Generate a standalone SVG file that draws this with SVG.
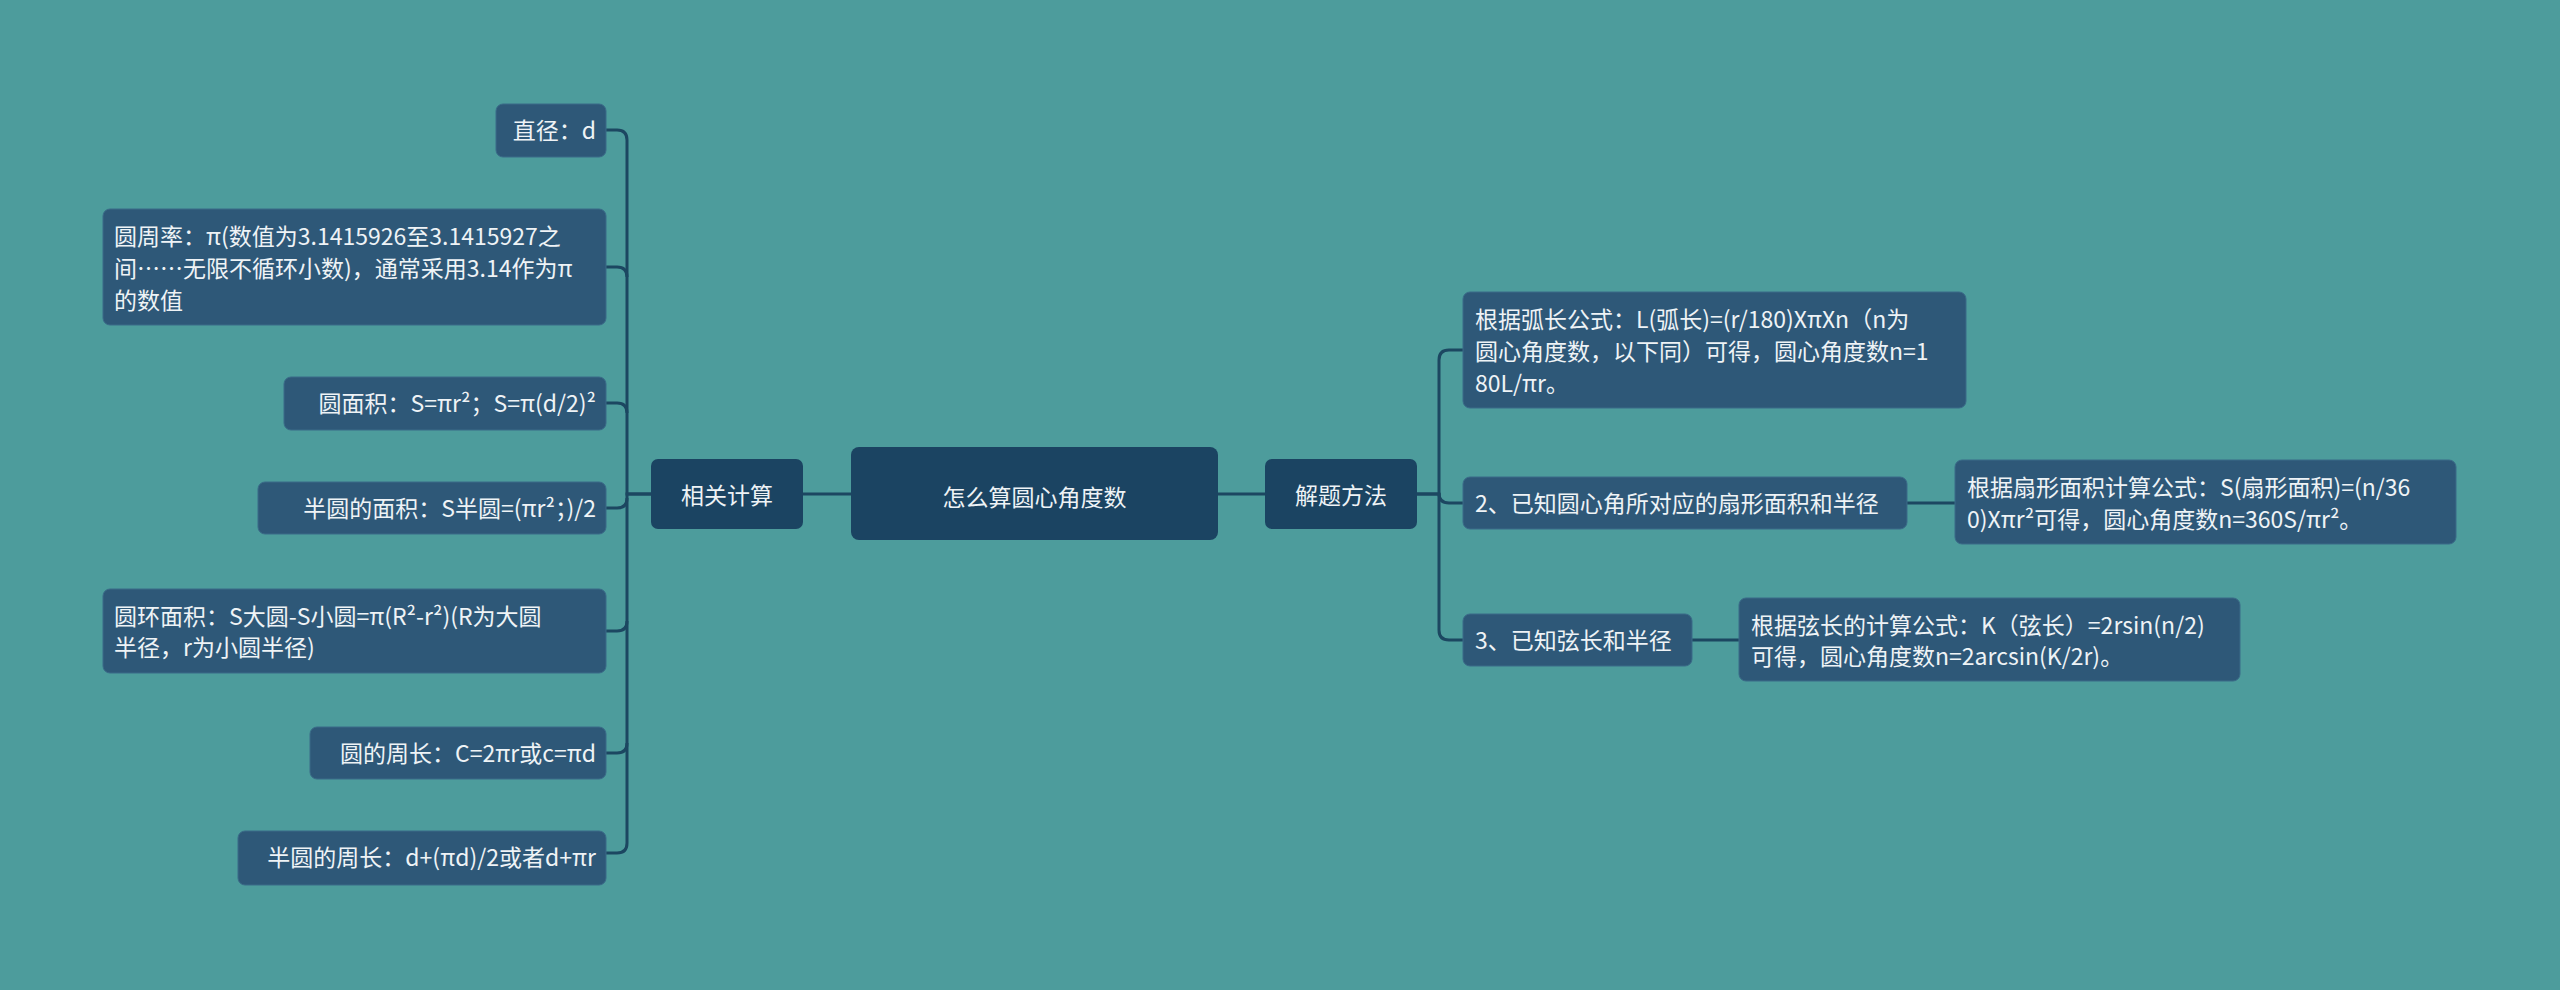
<svg xmlns="http://www.w3.org/2000/svg" width="2560" height="990" viewBox="0 0 2560 990">
<style>
.n{fill:#2e5878;stroke:#3a6a88;stroke-width:1}
.c{fill:#1b4462}
.t{font-family:"Noto Sans CJK SC","Liberation Sans",sans-serif;fill:#eef3f6;font-size:23px}
.l{fill:none;stroke:#1c4761;stroke-width:3}
</style>
<rect width="2560" height="990" fill="#4d9c9c"/>
<g id="connectors">
<path class="l" d="M851,494 H803"/>
<path class="l" d="M1218,494 H1265"/>
<path class="l" d="M651,494 H627 V140 Q627,130 617,130 H606"/>
<path class="l" d="M627,277 Q627,267 617,267 H606"/>
<path class="l" d="M627,413 Q627,403 617,403 H606"/>
<path class="l" d="M627,498 Q627,508 617,508 H606"/>
<path class="l" d="M627,621 Q627,631 617,631 H606"/>
<path class="l" d="M651,494 H627 V843 Q627,853 617,853 H606"/>
<path class="l" d="M627,743 Q627,753 617,753 H606"/>
<path class="l" d="M1417,494 H1439 V360 Q1439,350 1449,350 H1463"/>
<path class="l" d="M1439,494 V493 Q1439,503 1449,503 H1463"/>
<path class="l" d="M1417,494 H1439 V630 Q1439,640 1449,640 H1463"/>
<path class="l" d="M1907,503 H1955"/>
<path class="l" d="M1692,640 H1739"/>
</g>
<g id="center"><rect class="c" x="851" y="447" width="367" height="93" rx="8"/><text class="t" x="1034.5" y="506" text-anchor="middle" font-size="37">怎么算圆心角度数</text></g>
<g id="xg"><rect class="c" x="651" y="459" width="152" height="70" rx="7"/><text class="t" x="727" y="504" text-anchor="middle" font-size="28">相关计算</text></g>
<g id="jt"><rect class="c" x="1265" y="459" width="152" height="70" rx="7"/><text class="t" x="1341" y="504" text-anchor="middle" font-size="28">解题方法</text></g>
<g id="l1"><rect class="n" x="496" y="104" width="110" height="53" rx="7"/><text class="t" x="596" y="139" text-anchor="end">直径：d</text></g>
<g id="l2"><rect class="n" x="103" y="209" width="503" height="116" rx="7"/><text class="t" x="114" y="245">圆周率：π(数值为3.1415926至3.1415927之</text><text class="t" x="114" y="277">间……无限不循环小数)，通常采用3.14作为π</text><text class="t" x="114" y="309">的数值</text></g>
<g id="l3"><rect class="n" x="284" y="377" width="322" height="53" rx="7"/><text class="t" x="596" y="412" text-anchor="end">圆面积：S=πr²；S=π(d/2)²</text></g>
<g id="l4"><rect class="n" x="258" y="482" width="348" height="52" rx="7"/><text class="t" x="596" y="517" text-anchor="end">半圆的面积：S半圆=(πr²；)/2</text></g>
<g id="l5"><rect class="n" x="103" y="589" width="503" height="84" rx="7"/><text class="t" x="114" y="625">圆环面积：S大圆-S小圆=π(R²-r²)(R为大圆</text><text class="t" x="114" y="656">半径，r为小圆半径)</text></g>
<g id="l6"><rect class="n" x="310" y="727" width="296" height="52" rx="7"/><text class="t" x="596" y="762" text-anchor="end">圆的周长：C=2πr或c=πd</text></g>
<g id="l7"><rect class="n" x="238" y="831" width="368" height="54" rx="7"/><text class="t" x="596" y="866" text-anchor="end">半圆的周长：d+(πd)/2或者d+πr</text></g>
<g id="r1"><rect class="n" x="1463" y="292" width="503" height="116" rx="7"/><text class="t" x="1475" y="328">根据弧长公式：L(弧长)=(r/180)XπXn（n为</text><text class="t" x="1475" y="360">圆心角度数，以下同）可得，圆心角度数n=1</text><text class="t" x="1475" y="392">80L/πr。</text></g>
<g id="r2"><rect class="n" x="1463" y="477" width="444" height="52" rx="7"/><text class="t" x="1475" y="512">2、已知圆心角所对应的扇形面积和半径</text></g>
<g id="r2a"><rect class="n" x="1955" y="460" width="501" height="84" rx="7"/><text class="t" x="1967" y="496">根据扇形面积计算公式：S(扇形面积)=(n/36</text><text class="t" x="1967" y="528">0)Xπr²可得，圆心角度数n=360S/πr²。</text></g>
<g id="r3"><rect class="n" x="1463" y="614" width="229" height="52" rx="7"/><text class="t" x="1475" y="649">3、已知弦长和半径</text></g>
<g id="r3a"><rect class="n" x="1739" y="598" width="501" height="83" rx="7"/><text class="t" x="1751" y="634">根据弦长的计算公式：K（弦长）=2rsin(n/2)</text><text class="t" x="1751" y="665">可得，圆心角度数n=2arcsin(K/2r)。</text></g>
</svg>
